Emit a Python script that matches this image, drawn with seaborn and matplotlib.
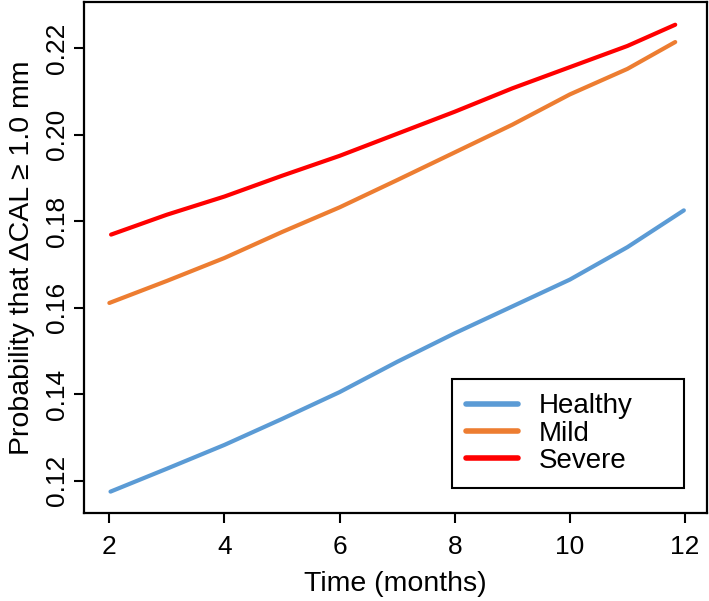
import matplotlib
matplotlib.use("Agg")
import matplotlib.pyplot as plt
import seaborn as sns
import pandas as pd

# values
months_healthy = [2.02, 3, 4, 5, 6, 7, 8, 9, 10, 11, 11.98]
healthy = [0.1175, 0.1228, 0.1283, 0.1343, 0.1405, 0.1475, 0.1541, 0.1603, 0.1665, 0.1740, 0.1825]
months_mild = [2.0, 3, 4, 5, 6, 7, 8, 9, 10, 11, 11.83]
mild = [0.1611, 0.1662, 0.1715, 0.1775, 0.1832, 0.1895, 0.1959, 0.2023, 0.2093, 0.2152, 0.2214]
months_severe = [2.03, 3, 4, 5, 6, 7, 8, 9, 10, 11, 11.83]
severe = [0.1769, 0.1815, 0.1857, 0.1905, 0.1951, 0.2002, 0.2053, 0.2107, 0.2156, 0.2205, 0.2254]

groups = ["Healthy", "Mild", "Severe"]
colors = {"Healthy": "#5B9BD5", "Mild": "#ED7D31", "Severe": "#FF0000"}

df = pd.concat([
    pd.DataFrame({"Time": months_healthy, "Prob": healthy, "Group": "Healthy"}),
    pd.DataFrame({"Time": months_mild, "Prob": mild, "Group": "Mild"}),
    pd.DataFrame({"Time": months_severe, "Prob": severe, "Group": "Severe"}),
])

sns.set_style("ticks")
plt.rcParams["font.family"] = ["Liberation Sans", "DejaVu Sans"]
plt.rcParams["text.color"] = "black"
plt.rcParams["axes.labelcolor"] = "black"

fig = plt.figure(figsize=(7.09, 6.01), dpi=100)
ax = fig.add_axes([0.119, 0.146, 0.878, 0.851])

sns.lineplot(data=df, x="Time", y="Prob", hue="Group", hue_order=groups,
             palette=colors, linewidth=3, ax=ax, estimator=None, sort=False)

ax.set_xlim(1.566, 12.38)
ax.set_ylim(0.1125, 0.2307)
ax.set_xticks([2, 4, 6, 8, 10, 12])
ax.set_yticks([0.12, 0.14, 0.16, 0.18, 0.20, 0.22])
ax.set_yticklabels(["0.12", "0.14", "0.16", "0.18", "0.20", "0.22"],
                   rotation=90, va="center")
ax.tick_params(axis="both", length=7, width=1.5, labelsize=19, colors="black")
ax.tick_params(axis="x", pad=9)
ax.tick_params(axis="y", pad=4)
for s in ax.spines.values():
    s.set_linewidth(1.6)
    s.set_color("black")

ax.set_xlabel("Time (months)", fontsize=20.5, labelpad=8)
ax.set_ylabel("Probability that ΔCAL ≥ 1.0 mm", fontsize=20.5, labelpad=7)

leg = ax.legend(loc="lower left", bbox_to_anchor=(0.59, 0.0495, 0.373, 0.2),
                mode="expand", borderaxespad=0, framealpha=1,
                fontsize=20, frameon=True, fancybox=False, handlelength=1.9,
                handletextpad=0.72, borderpad=0.5, labelspacing=0.05)
leg.get_frame().set_edgecolor("black")
leg.get_frame().set_linewidth(1.5)
for h in leg.get_lines():
    h.set_linewidth(4)

fig.savefig("out.png", dpi=100)
